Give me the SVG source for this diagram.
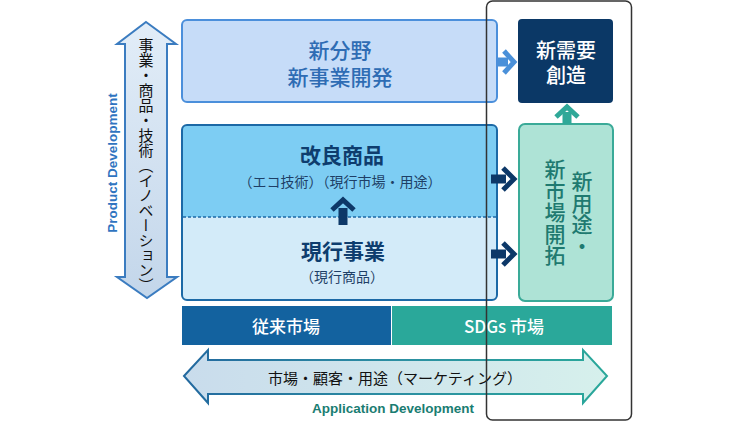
<svg xmlns="http://www.w3.org/2000/svg" width="740" height="422" viewBox="0 0 740 422">
<style>
  .jp { font-family: "Noto Sans CJK JP", "Noto Sans", sans-serif; }
  .en { font-family: "Liberation Sans", Arial, sans-serif; font-weight: bold; }
  .vt { writing-mode: vertical-rl; }
  .navyarrow { fill: #0d3868; }
</style>
<defs>
  <linearGradient id="vgrad" x1="0" y1="0" x2="0" y2="1">
    <stop offset="0" stop-color="#e2edf8"/>
    <stop offset="1" stop-color="#c3d6ea"/>
  </linearGradient>
  <linearGradient id="hgrad" x1="0" y1="0" x2="1" y2="0">
    <stop offset="0" stop-color="#c9dcec"/>
    <stop offset="1" stop-color="#d6f0ec"/>
  </linearGradient>
  <linearGradient id="hstroke" x1="0" y1="0" x2="1" y2="0">
    <stop offset="0" stop-color="#23699f"/>
    <stop offset="0.5" stop-color="#2c8fa2"/>
    <stop offset="1" stop-color="#2aa89a"/>
  </linearGradient>
</defs>

<g id="product-axis">
  <path d="M146,22 L176,44 L167,44 L167,277 L177,277 L147,298 L117,277 L125,277 L125,44 L117,44 Z" fill="url(#vgrad)" stroke="#3b7cc0" stroke-width="2" stroke-linejoin="miter"/>
  <text class="jp vt" x="146" y="38" font-size="15" fill="#111">事業・商品・技術（イノベーション）</text>
  <text class="en" transform="translate(117,163) rotate(-90)" text-anchor="middle" font-size="13.5" fill="#2f74c0">Product Development</text>
</g>

<g id="new-business">
  <rect x="182" y="20" width="315" height="82" rx="5" fill="#c6dcf8" stroke="#4b8fdb" stroke-width="2"/>
  <text class="jp" text-anchor="middle" font-size="21" font-weight="500" fill="#2e6cb4"><tspan x="340" y="58">新分野</tspan><tspan x="340" y="85">新事業開発</tspan></text>
</g>

<g id="improved-current">
  <path d="M187,125 H492 Q497,125 497,130 V217 H182 V130 Q182,125 187,125 Z" fill="#7dcdf3"/>
  <path d="M182,217 H497 V295 Q497,300 492,300 H187 Q182,300 182,295 Z" fill="#d3ebf9"/>
  <rect x="182" y="125" width="315" height="175" rx="5" fill="none" stroke="#1c69a6" stroke-width="2"/>
  <line x1="183" y1="217" x2="496" y2="217" stroke="#1c69a6" stroke-width="1.5" stroke-dasharray="3 2"/>
  <text class="jp" x="342" y="163" text-anchor="middle" font-size="21" font-weight="bold" fill="#0e3d6e">改良商品</text>
  <text class="jp" x="340" y="187" text-anchor="middle" font-size="14" fill="#1e3f66">（エコ技術）（現行市場・用途）</text>
  <text class="jp" x="343" y="259" text-anchor="middle" font-size="21" font-weight="bold" fill="#0e3d6e">現行事業</text>
  <text class="jp" x="342" y="282" text-anchor="middle" font-size="14" fill="#1e3f66">（現行商品）</text>
</g>

<g id="new-market">
  <rect x="519" y="124" width="94" height="177" rx="6" fill="#aee3d6" stroke="#3aaa98" stroke-width="2"/>
  <text class="jp vt" x="582" y="171" font-size="21" font-weight="500" letter-spacing="0.5" fill="#1f7a70">新用途・</text>
  <text class="jp vt" x="555" y="159" font-size="21" font-weight="500" letter-spacing="0.5" fill="#1f7a70">新市場開拓</text>
</g>

<g id="new-demand">
  <rect x="518" y="19" width="95" height="84" rx="4" fill="#0b3866"/>
  <text class="jp" text-anchor="middle" font-size="20" font-weight="500" fill="#ffffff"><tspan x="566" y="58">新需要</tspan><tspan x="566" y="83">創造</tspan></text>
</g>

<g id="connectors">
  <rect x="498" y="57.5" width="10" height="9" fill="#4a90d9"/>
  <polyline points="504,51 514,62 504,73" fill="none" stroke="#4a90d9" stroke-width="5"/>
  <rect x="562.5" y="112" width="9" height="12" fill="#2fa898"/>
  <polyline points="556,117 567,107 578,117" fill="none" stroke="#2fa898" stroke-width="5"/>
  <rect x="491" y="174.5" width="15" height="9" class="navyarrow"/>
  <polyline points="503,168 514,179 503,190" fill="none" stroke="#0d3868" stroke-width="5"/>
  <rect x="491" y="249.5" width="15" height="9" class="navyarrow"/>
  <polyline points="503,243 514,254 503,265" fill="none" stroke="#0d3868" stroke-width="5"/>
  <rect x="338.5" y="208" width="9" height="17" class="navyarrow"/>
  <polyline points="332,210 343,200 354,210" fill="none" stroke="#0d3868" stroke-width="5"/>
</g>

<g id="markets">
  <rect x="182" y="306" width="209" height="39" fill="#13629f"/>
  <text class="jp" x="286" y="333" text-anchor="middle" font-size="17" font-weight="500" fill="#ffffff">従来市場</text>
  <rect x="392" y="306" width="220" height="39" fill="#2aa89a"/>
  <text class="jp" x="504" y="333" text-anchor="middle" font-size="17" font-weight="500" fill="#ffffff">SDGs 市場</text>
</g>

<g id="application-axis">
  <path d="M184,376 L208,350 L208,360 L583,360 L583,350 L607,376 L583,403 L583,394 L208,394 L208,403 Z" fill="url(#hgrad)" stroke="url(#hstroke)" stroke-width="2"/>
  <text class="jp" x="395" y="384" text-anchor="middle" font-size="15" fill="#111">市場・顧客・用途（マーケティング）</text>
  <text class="en" x="393" y="413" text-anchor="middle" font-size="13.5" fill="#1a7d72">Application Development</text>
</g>

<g id="frame">
  <rect x="486.5" y="1" width="145" height="419" rx="6" fill="none" stroke="#333" stroke-width="1.5"/>
</g>
</svg>
